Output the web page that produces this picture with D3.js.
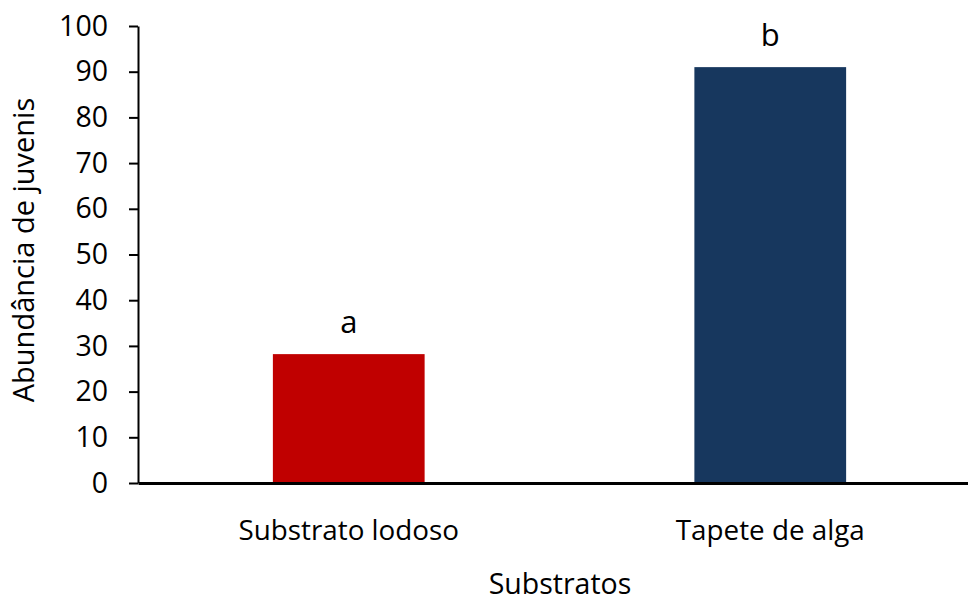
<!DOCTYPE html>
<html>
<head>
<meta charset="utf-8">
<script src="https://cdn.jsdelivr.net/npm/d3@7"></script>
<style>
  body { margin: 0; background: #fff; }
  text { font-family: "Open Sans", "Noto Sans", sans-serif; fill: #000; }
</style>
</head>
<body>
<div id="chart"></div>
<script>
var categories = ["Substrato lodoso", "Tapete de alga"];
var values = [28.2, 91];
var letters = ["a", "b"];
var colors = ["#C00000", "#17375E"];
var yTicks = [0, 10, 20, 30, 40, 50, 60, 70, 80, 90, 100];

var W = 968, H = 604;
var margin = {top: 26, right: -13, bottom: 121, left: 138},
    width = W - margin.left - margin.right,
    height = H - margin.top - margin.bottom;

var svg = d3.select("#chart")
    .append("svg")
    .attr("width", W)
    .attr("height", H)
    .append("g")
    .attr("transform", "translate(" + margin.left + "," + margin.top + ")");

var x = d3.scaleBand().domain(categories).range([0, width])
    .paddingInner(0.64).paddingOuter(0.32);
var y = d3.scaleLinear().domain([0, 100]).range([height, 0]);

// y axis
var yAxis = svg.append("g")
    .call(d3.axisLeft(y).tickValues(yTicks).tickSize(9).tickPadding(21).tickSizeOuter(0));
yAxis.select(".domain").attr("stroke", "#000").attr("stroke-width", 2);
yAxis.selectAll(".tick line").attr("stroke", "#000").attr("stroke-width", 2);
yAxis.selectAll(".tick text")
    .style("font-size", "28.5px")
    .style("font-family", "'Open Sans', sans-serif");

// bars
svg.selectAll(".bar")
    .data(values)
    .enter().append("rect")
    .attr("x", function(d, i){ return x(categories[i]); })
    .attr("width", x.bandwidth())
    .attr("y", function(d){ return y(d); })
    .attr("height", function(d){ return height - y(d); })
    .attr("fill", function(d, i){ return colors[i]; });

// x axis (baseline)
var xAxis = svg.append("g")
    .attr("transform", "translate(0," + height + ")")
    .call(d3.axisBottom(x).tickSize(0).tickPadding(37).tickSizeOuter(0));
xAxis.select(".domain").attr("stroke", "#000").attr("stroke-width", 3);
xAxis.selectAll(".tick text")
    .style("font-size", "27.8px")
    .style("font-family", "'Open Sans', sans-serif");

// letters above bars
svg.selectAll(".letter")
    .data(values)
    .enter().append("text")
    .attr("x", function(d, i){ return x(categories[i]) + x.bandwidth() / 2; })
    .attr("y", function(d){ return y(d) - 21; })
    .attr("text-anchor", "middle")
    .style("font-size", "31px")
    .text(function(d, i){ return letters[i]; });

// axis titles
svg.append("text")
    .attr("x", 560 - margin.left)
    .attr("y", 594 - margin.top)
    .attr("text-anchor", "middle")
    .style("font-size", "28.5px")
    .text("Substratos");

svg.append("text")
    .attr("transform", "translate(" + (34 - margin.left) + "," + (250 - margin.top) + ") rotate(-90)")
    .attr("text-anchor", "middle")
    .style("font-size", "29px")
    .text("Abundância de juvenis");
</script>
</body>
</html>
